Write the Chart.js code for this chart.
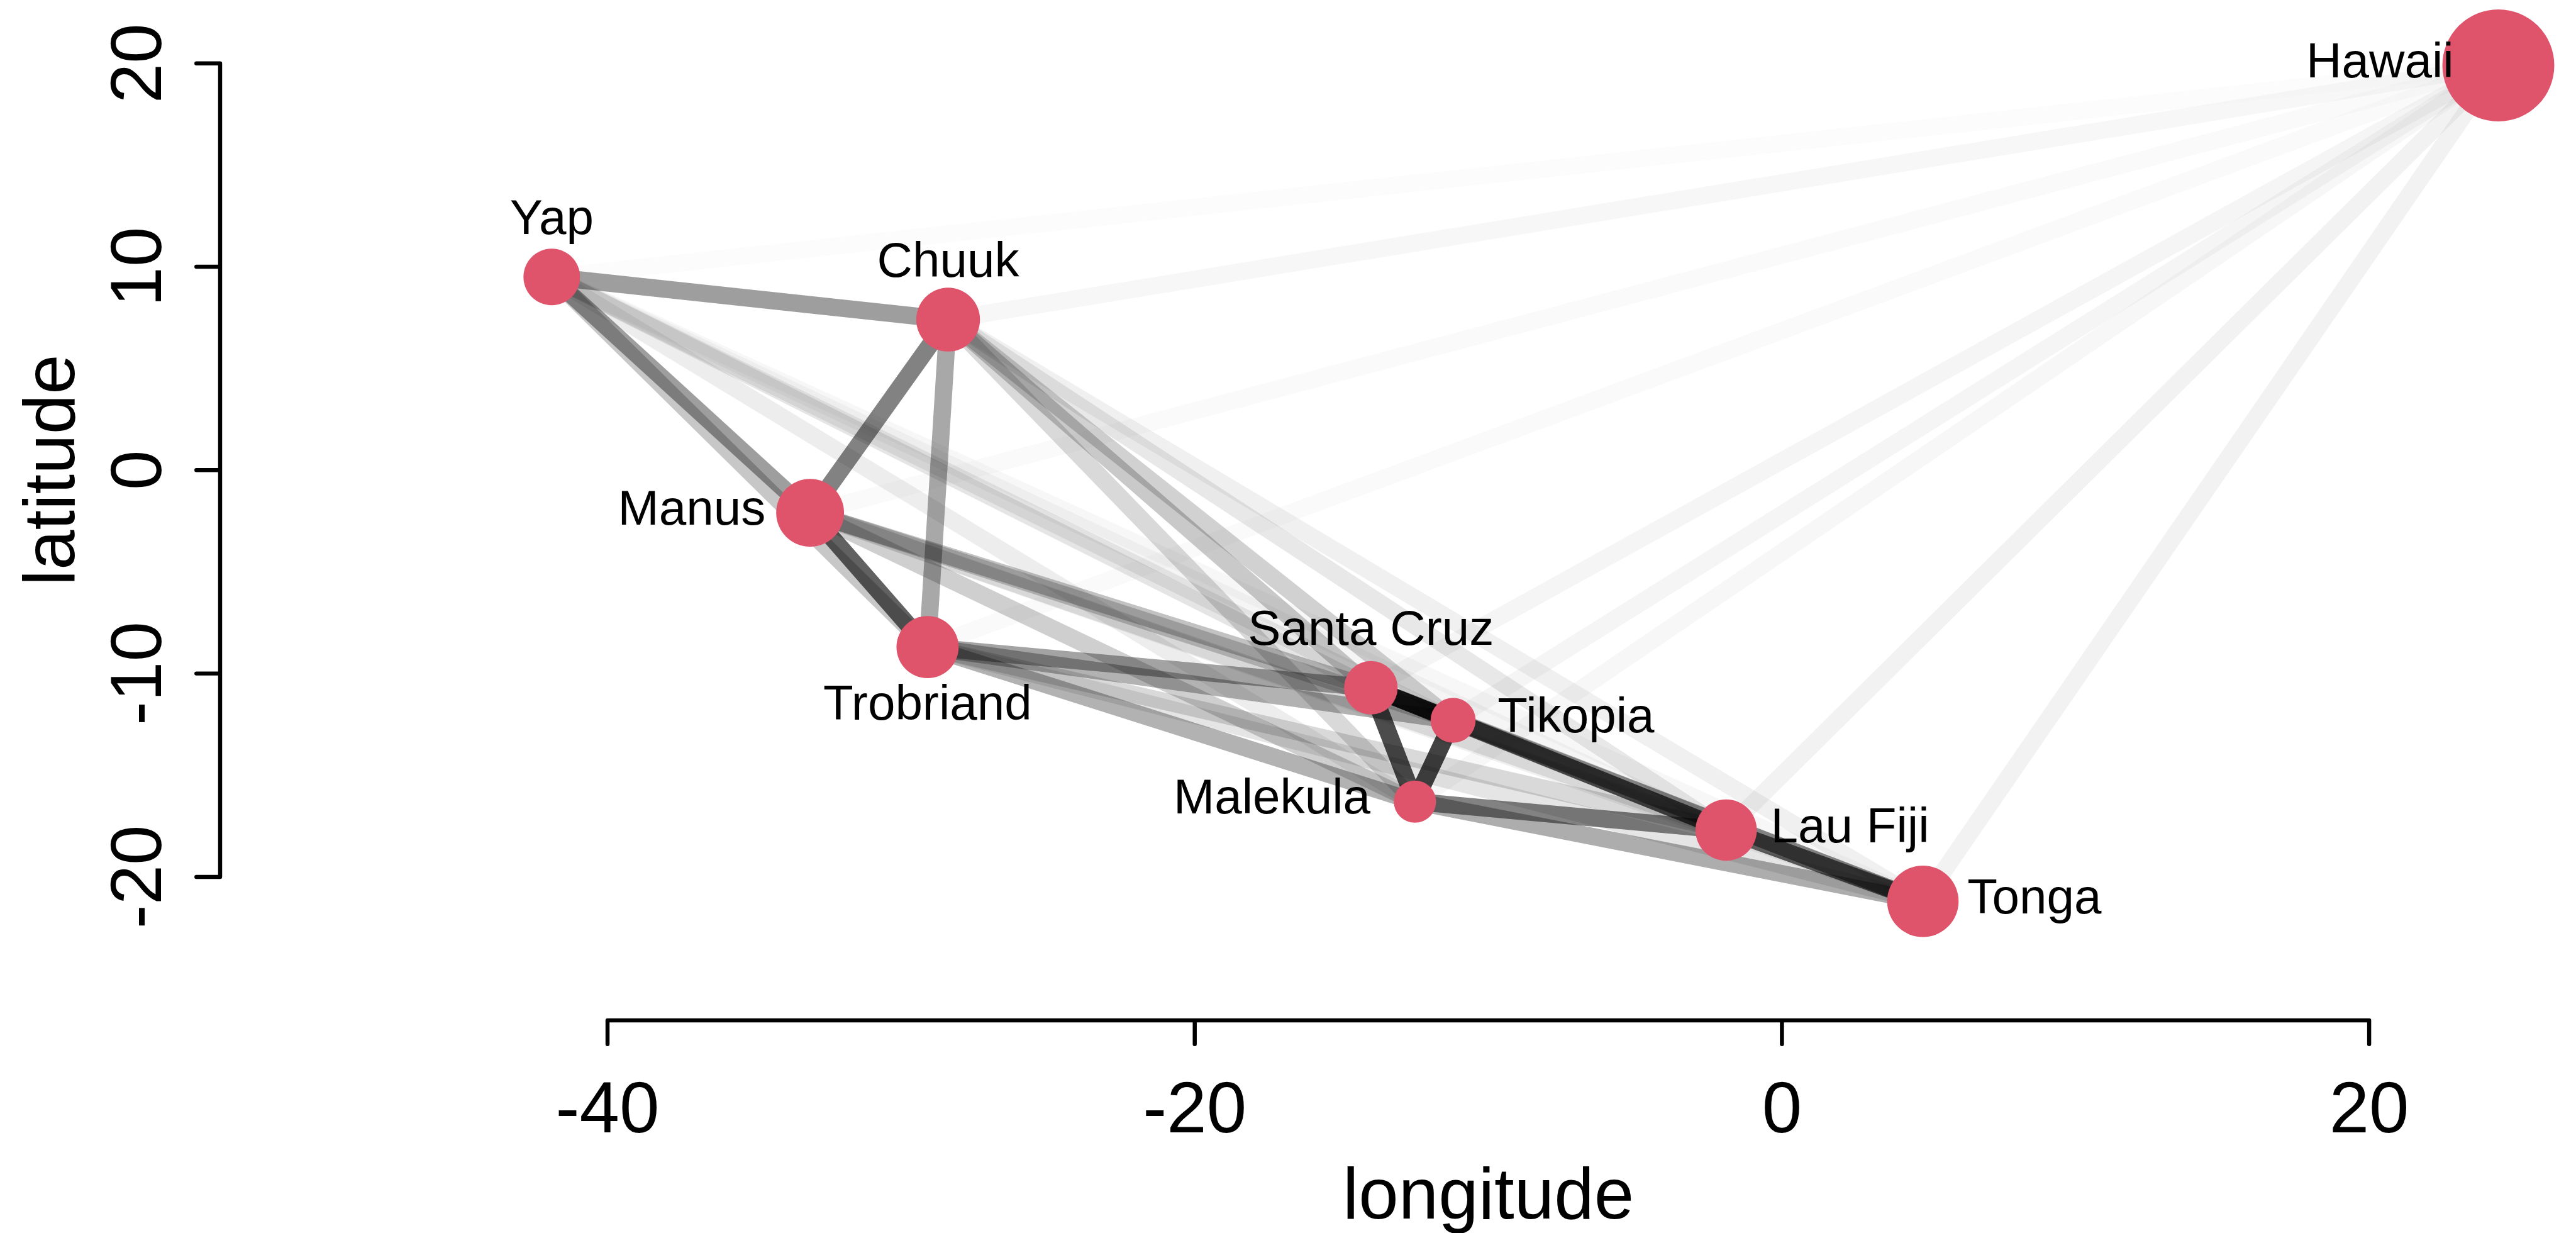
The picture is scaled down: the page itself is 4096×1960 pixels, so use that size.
<!DOCTYPE html>
<html><head><meta charset="utf-8">
<script src="https://cdn.jsdelivr.net/npm/chart.js@4.4.1/dist/chart.umd.min.js"></script>
<style>html,body{margin:0;padding:0;background:#fff;overflow:hidden}#wrap{width:4096px;height:1960px;position:relative}</style>
</head><body><div id="wrap"><canvas id="c"></canvas></div>
<script>
// ---- data ----
const islands    = ["Malekula","Tikopia","Santa Cruz","Yap","Lau Fiji","Trobriand","Chuuk","Manus","Tonga","Hawaii"];
const longitude  = [-12.5, -11.2, -14.0, -41.9, -1.9, -29.1, -28.4, -33.1, 4.8, 24.4];
const latitude   = [-16.3, -12.3, -10.7,   9.5, -17.7, -8.7,   7.4,  -2.1, -21.2, 19.9];
const population = [1100, 1500, 3600, 4791, 7400, 8000, 9200, 13000, 17500, 275000];
const labelSide  = ["left","right","above","above","right","below","above","left","right","left"];
// line shading (opacity) between island pairs
const shade = [
 [1.00,0.74,0.70,0.07,0.49,0.30,0.15,0.19,0.32,0.03],
 [0.74,1.00,0.84,0.08,0.49,0.30,0.18,0.20,0.30,0.04],
 [0.70,0.84,1.00,0.10,0.38,0.36,0.21,0.24,0.25,0.04],
 [0.07,0.08,0.10,1.00,0.04,0.22,0.38,0.38,0.03,0.013],
 [0.49,0.49,0.38,0.04,1.00,0.15,0.09,0.10,0.62,0.05],
 [0.30,0.30,0.36,0.22,0.15,1.00,0.34,0.62,0.10,0.02],
 [0.15,0.18,0.21,0.38,0.09,0.34,1.00,0.49,0.06,0.03],
 [0.19,0.20,0.24,0.38,0.10,0.62,0.49,1.00,0.06,0.02],
 [0.32,0.30,0.25,0.03,0.62,0.10,0.06,0.06,1.00,0.05],
 [0.03,0.04,0.04,0.013,0.05,0.02,0.03,0.02,0.05,1.00]
];
const xTicks = [-40, -20, 0, 20];
const yTicks = [-20, -10, 0, 10, 20];
const xTitle = "longitude";
const yTitle = "latitude";

// ---- styling ----
const S = 0.92;
const FONT = '"Liberation Sans", Arial, Helvetica, sans-serif';
const maxLog = Math.max(...population.map(p => Math.log(p)));
const radiusFor = p => 27.78 * S * (Math.exp(1.5 * Math.log(p) / maxLog) - 1);

const datasets = [];
datasets.push({
  label: 'islands',
  data: islands.map((n, i) => ({x: longitude[i], y: latitude[i]})),
  pointRadius: population.map(radiusFor),
  pointHoverRadius: population.map(radiusFor),
  pointBackgroundColor: '#DF536B',
  pointBorderWidth: 0,
  showLine: false,
  clip: false,
  order: 0
});
for (let i = 0; i < islands.length; i++) {
  for (let j = i + 1; j < islands.length; j++) {
    datasets.push({
      label: islands[i] + '-' + islands[j],
      data: [{x: longitude[i], y: latitude[i]}, {x: longitude[j], y: latitude[j]}],
      showLine: true,
      borderColor: 'rgba(0,0,0,' + shade[i][j] + ')',
      borderWidth: 30 * S,
      borderCapStyle: 'round',
      pointRadius: 0,
      pointHoverRadius: 0,
      tension: 0,
      clip: false,
      order: 1
    });
  }
}

const rAxes = {
  id: 'rAxes',
  afterDatasetsDraw(chart) {
    const ctx = chart.ctx, xs = chart.scales.x, ys = chart.scales.y, ca = chart.chartArea;
    ctx.save();
    // island labels
    ctx.fillStyle = '#000';
    ctx.font = (85 * S) + 'px ' + FONT;
    islands.forEach((name, i) => {
      const cx = xs.getPixelForValue(longitude[i]);
      const cy = ys.getPixelForValue(latitude[i]);
      const side = labelSide[i];
      ctx.textBaseline = 'alphabetic';
      if (side === 'above') { ctx.textAlign = 'center'; ctx.fillText(name, cx, cy - 74 * S); }
      else if (side === 'below') { ctx.textAlign = 'center'; ctx.fillText(name, cx, cy + 125.7 * S); }
      else if (side === 'left') { ctx.textAlign = 'right'; ctx.fillText(name, cx - 77 * S, cy + 20.6 * S); }
      else { ctx.textAlign = 'left'; ctx.fillText(name, cx + 77 * S, cy + 20.6 * S); }
    });
    // axes
    ctx.strokeStyle = '#000';
    ctx.lineWidth = 7 * S;
    ctx.lineCap = 'round';
    ctx.lineJoin = 'round';
    const tl = 41 * S;
    const yb = ca.bottom;
    const x0 = xs.getPixelForValue(xTicks[0]), x1 = xs.getPixelForValue(xTicks[xTicks.length - 1]);
    ctx.beginPath();
    ctx.moveTo(x0, yb + tl); ctx.lineTo(x0, yb); ctx.lineTo(x1, yb); ctx.lineTo(x1, yb + tl);
    xTicks.slice(1, -1).forEach(v => { const px = xs.getPixelForValue(v); ctx.moveTo(px, yb); ctx.lineTo(px, yb + tl); });
    ctx.stroke();
    const xl = ca.left;
    const y0 = ys.getPixelForValue(yTicks[0]), y1 = ys.getPixelForValue(yTicks[yTicks.length - 1]);
    ctx.beginPath();
    ctx.moveTo(xl - tl, y0); ctx.lineTo(xl, y0); ctx.lineTo(xl, y1); ctx.lineTo(xl - tl, y1);
    yTicks.slice(1, -1).forEach(v => { const py = ys.getPixelForValue(v); ctx.moveTo(xl, py); ctx.lineTo(xl - tl, py); });
    ctx.stroke();
    // tick labels
    ctx.font = (124 * S) + 'px ' + FONT;
    ctx.textAlign = 'center';
    ctx.textBaseline = 'alphabetic';
    xTicks.forEach(v => ctx.fillText(String(v), xs.getPixelForValue(v), yb + 193.5 * S));
    yTicks.forEach(v => {
      ctx.save();
      ctx.translate(xl - 102.5 * S, ys.getPixelForValue(v));
      ctx.rotate(-Math.PI / 2);
      ctx.fillText(String(v), 0, 0);
      ctx.restore();
    });
    // titles
    ctx.fillText(xTitle, (x0 + x1) / 2, yb + 342 * S);
    ctx.save();
    ctx.translate(xl - 252 * S, (y0 + y1) / 2);
    ctx.rotate(-Math.PI / 2);
    ctx.fillText(yTitle, 0, 0);
    ctx.restore();
    ctx.restore();
  }
};

new Chart(document.getElementById('c'), {
  type: 'scatter',
  data: { datasets },
  options: {
    responsive: true,
    maintainAspectRatio: false,
    devicePixelRatio: 1,
    animation: false,
    events: [],
    layout: { autoPadding: false, padding: { left: 350, right: 36, top: 30, bottom: 338 } },
    plugins: { legend: { display: false }, tooltip: { enabled: false } },
    scales: {
      x: { type: 'linear', display: false, min: -53.195, max: 26.274 },
      y: { type: 'linear', display: false, min: -27.055, max: 22.187 }
    }
  },
  plugins: [rAxes]
});
</script>
</body></html>
